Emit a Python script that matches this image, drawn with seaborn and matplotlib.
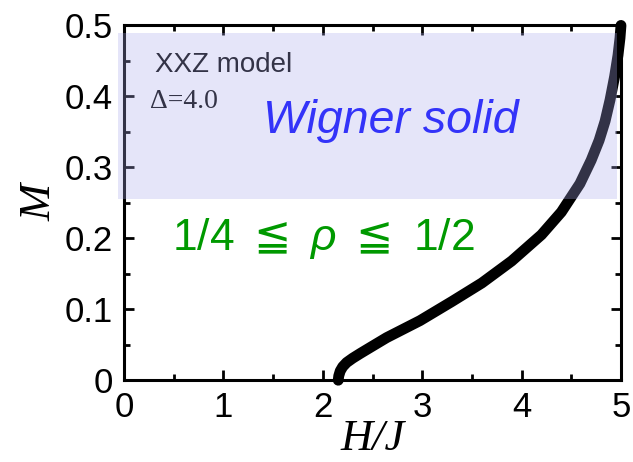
import matplotlib
matplotlib.use("Agg")
import matplotlib.pyplot as plt
import seaborn as sns
import pandas as pd
from matplotlib.patches import Rectangle
from matplotlib.ticker import MultipleLocator

# Magnetization curve M(H/J) of the XXZ chain at Delta = 4.0
field = [2.155, 2.16, 2.175, 2.20, 2.24, 2.30, 2.38, 2.475, 2.642, 2.978, 3.3, 3.6,
         3.9, 4.2, 4.4, 4.587, 4.70, 4.78, 4.84, 4.89, 4.936, 4.97, 4.99, 5.0]
magnetization = [0.0, 0.006, 0.013, 0.019, 0.025, 0.031, 0.038, 0.046, 0.060, 0.084, 0.111,
                 0.137, 0.168, 0.205, 0.237, 0.277, 0.310, 0.338, 0.365, 0.395, 0.428,
                 0.458, 0.482, 0.5]

# Wigner-solid band (H range, M range)
band_h = [-0.06, 4.96]
band_m = [0.255, 0.490]

x_ticks = [0, 1, 2, 3, 4, 5]
y_ticks = [0, 0.1, 0.2, 0.3, 0.4, 0.5]
y_tick_labels = ["0", "0.1", "0.2", "0.3", "0.4", "0.5"]

sns.set_style("ticks")
plt.rcParams["font.family"] = ["Liberation Sans", "DejaVu Sans"]
plt.rcParams["mathtext.fontset"] = "custom"
plt.rcParams["mathtext.rm"] = "Liberation Sans"
plt.rcParams["mathtext.it"] = "Liberation Sans:italic"
plt.rcParams["mathtext.sf"] = "DejaVu Sans"
plt.rcParams["mathtext.fallback"] = "stixsans"
plt.rcParams["text.color"] = "black"
plt.rcParams["axes.labelcolor"] = "black"
plt.rcParams["xtick.color"] = "black"
plt.rcParams["ytick.color"] = "black"

fig = plt.figure(figsize=(6.33, 4.62), dpi=100)
ax = fig.add_axes([0.196, 0.177, 0.785, 0.768])

df = pd.DataFrame({"H": field, "M": magnetization})
sns.lineplot(data=df, x="H", y="M", sort=False, ax=ax, color="black",
             linewidth=7.8, solid_capstyle="round", solid_joinstyle="round",
             zorder=2, clip_on=False)

ax.set_xlim(0, 5)
ax.set_ylim(0, 0.5)
ax.xaxis.set_major_locator(MultipleLocator(1))
ax.xaxis.set_minor_locator(MultipleLocator(0.5))
ax.yaxis.set_major_locator(MultipleLocator(0.1))
ax.yaxis.set_minor_locator(MultipleLocator(0.05))
ax.set_xticks(x_ticks)
ax.set_yticks(y_ticks)
ax.set_yticklabels(y_tick_labels)

for side in ["left", "right", "top", "bottom"]:
    ax.spines[side].set_visible(True)
    ax.spines[side].set_linewidth(2.2)
    ax.spines[side].set_color("black")

ax.tick_params(which="both", direction="in", top=True, right=True,
               color="black", labelcolor="black", width=2.0)
ax.tick_params(which="major", length=7.5, labelsize=25, pad=8)
ax.tick_params(which="minor", length=4)

ax.set_xlabel("H/J", fontsize=32, family="Liberation Serif", style="italic",
              labelpad=-4)
ax.set_ylabel("M", fontsize=32, family="Liberation Serif", style="italic",
              labelpad=4)

ax.text(0.31, 0.435, "XXZ model", fontsize=20, color="black", zorder=3)
ax.text(0.26, 0.383, "Δ=4.0", fontsize=20, family="Liberation Serif",
        color="black", zorder=3)
ax.text(1.40, 0.348, "Wigner solid", fontsize=33.5, style="italic",
        color="#0000ff", zorder=3)

ax.add_patch(Rectangle((band_h[0], band_m[0]), band_h[1] - band_h[0],
                       band_m[1] - band_m[0], facecolor=(172 / 255, 172 / 255, 238 / 255),
                       edgecolor="none", alpha=0.3, zorder=5, clip_on=False))

ax.text(2.0, 0.1835, r"$\mathrm{1/4}\ \mathsf{\leqq}\ \rho\ \mathsf{\leqq}\ \mathrm{1/2}$",
        fontsize=32, color="#009900", ha="center", zorder=6)

fig.savefig("out.png", dpi=100)
